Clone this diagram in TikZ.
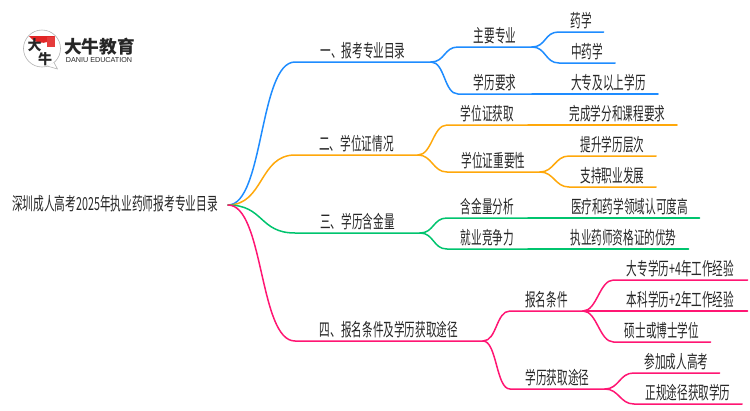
\documentclass[tikz,border=0pt]{standalone}
\usepackage{fontspec}
\usepackage{xcolor}
\newfontfamily\cjk[FakeStretch=0.59]{Noto Sans CJK SC}
\newfontfamily\cjkroot[FakeStretch=0.595]{Noto Sans CJK SC}
\newfontfamily\logocjk{Noto Sans CJK SC}
\newfontfamily\logolat{Liberation Sans}
\definecolor{brA}{RGB}{30, 140, 255}
\definecolor{brB}{RGB}{255, 168, 10}
\definecolor{brC}{RGB}{0, 196, 110}
\definecolor{brD}{RGB}{255, 22, 115}
\definecolor{ink}{RGB}{38, 38, 38}
\definecolor{cap}{RGB}{226, 38, 38}
\tikzset{
  lbl/.style={inner sep=0pt, outer sep=0pt, anchor=south, text=ink, text height=14pt, text depth=5pt, font=\cjk\fontsize{18}{18}\selectfont},
  brush/.style={text=ink, inner sep=0pt, font=\logocjk\bfseries\fontsize{14}{14}\selectfont},
  link/.style={line width=1.5pt, line cap=round}
}
\newcommand{\twig}[4]{\draw[link, color=#1] (#2.south east) .. controls +(#4,0) and +(-#4,0) .. (#3.south west) -- (#3.south east);}
\begin{document}
\begin{tikzpicture}[x=1pt, y=-1pt]
      \useasboundingbox (0, 0) rectangle (750, 410);
      % logo
      \draw[color=black!30, line width=0.6pt, fill=white] (42, 48.5) circle (18.5);
      \draw[color=black!30, line width=0.6pt, fill=white] (47, 66) -- (57.5, 69) -- (54, 62.5);
      \fill[color=cap] (29, 36) arc (145:35:16) -- cycle;
      \fill[color=cap!90!white] (46.7, 37) rectangle (55, 47);
      \node[brush] (logoa) at (34.5, 45) {大};
      \node[brush] (logob) at (45, 59.5) {牛};
      \node[text=ink, font=\logocjk\bfseries\fontsize{17.7}{18}\selectfont] (logoc) at (99.5, 47) {大牛教育};
      \node[text=ink, font=\logolat\fontsize{7.2}{8}\selectfont] (logod) at (99, 60.5) {DANIU EDUCATION};
      % root
      \node[lbl, minimum width=226, anchor=east, text depth=4pt, font=\cjkroot\fontsize{18}{18}\selectfont] (root) at (228, 205) {深圳成人高考2025年执业药师报考专业目录};
      % first level
      \node[lbl, minimum width=136] (a) at (363, 62) {一、报考专业目录};
      \node[lbl, minimum width=123] (b) at (356.5, 155) {二、学位证情况};
      \node[lbl, minimum width=125] (c) at (357.5, 233) {三、学历含金量};
      \node[lbl, minimum width=188] (d) at (389, 341) {四、报名条件及学历获取途径};
      % second level
      \node[lbl, minimum width=74] (aa) at (495, 47) {主要专业};
      \node[lbl, minimum width=74] (ab) at (495, 94) {学历要求};
      \node[lbl, minimum width=81] (ba) at (487.5, 125) {学位证获取};
      \node[lbl, minimum width=93] (bb) at (493.5, 172) {学位证重要性};
      \node[lbl, minimum width=81] (ca) at (487.5, 218) {含金量分析};
      \node[lbl, minimum width=81] (cb) at (487.5, 249) {就业竞争力};
      \node[lbl, minimum width=73] (da) at (546.5, 311) {报名条件};
      \node[lbl, minimum width=95] (db) at (557.5, 389) {学历获取途径};
      % third level
      \node[lbl, minimum width=45] (aaa) at (581, 32) {药学};
      \node[lbl, minimum width=56] (aab) at (587, 63) {中药学};
      \node[lbl, minimum width=99] (aba) at (608.5, 94) {大专及以上学历};
      \node[lbl, minimum width=119] (baa) at (617.5, 125) {完成学分和课程要求};
      \node[lbl, minimum width=87] (bba) at (612.5, 156) {提升学历层次};
      \node[lbl, minimum width=87] (bbb) at (612.5, 187) {支持职业发展};
      \node[lbl, minimum width=140] (caa) at (629.5, 218) {医疗和药学领域认可度高};
      \node[lbl, minimum width=130] (cba) at (623.5, 249) {执业药师资格证的优势};
      \node[lbl, minimum width=134] (daa) at (680.5, 280) {大专学历+4年工作经验};
      \node[lbl, minimum width=134] (dab) at (680.5, 311) {本科学历+2年工作经验};
      \node[lbl, minimum width=97] (dac) at (662, 342) {硕士或博士学位};
      \node[lbl, minimum width=86] (dba) at (676.5, 373) {参加成人高考};
      \node[lbl, minimum width=108] (dbb) at (688, 404) {正规途径获取学历};
      % connectors
      \foreach \col/\kid in {brA/a, brB/b, brC/c, brD/d}
        \draw[link, color=\col] (root.east) .. controls +(36,0) and +(-36,0) .. (\kid.south west) -- (\kid.south east);
      \foreach \col/\up/\kid in {brA/a/aa, brA/a/ab, brA/aa/aaa, brA/aa/aab, brA/ab/aba,
        brB/b/ba, brB/b/bb, brB/ba/baa, brB/bb/bba, brB/bb/bbb,
        brC/c/ca, brC/c/cb, brC/ca/caa, brC/cb/cba,
        brD/d/da, brD/d/db, brD/da/daa, brD/da/dab, brD/da/dac, brD/db/dba, brD/db/dbb}
        \twig{\col}{\up}{\kid}{14};
    \end{tikzpicture}
\end{document}
